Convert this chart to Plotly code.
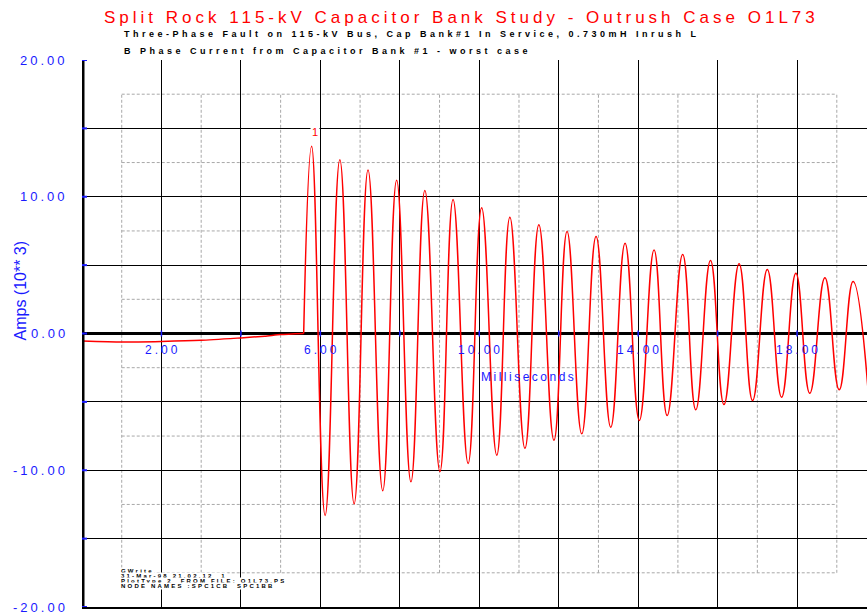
import plotly.graph_objects as go

# ---- capacitor bank outrush current, B phase (time in ms, current in kA) ----
pre_t = [0.0, 1.0, 2.0, 3.0, 4.0, 4.6, 5.0, 5.58]
pre_i = [-0.55, -0.62, -0.58, -0.50, -0.32, -0.20, -0.08, 0.0]

peak_t = [5.78, 6.49, 7.20, 7.92, 8.63, 9.34, 10.06, 10.77, 11.50, 12.21,
          12.94, 13.67, 14.40, 15.12, 15.82, 16.54, 17.25, 17.97, 18.70, 19.41]
peak_i = [13.7, 12.7, 11.95, 11.2, 10.45, 9.8, 9.2, 8.5, 7.95, 7.45,
          7.1, 6.6, 6.1, 5.78, 5.34, 5.1, 4.68, 4.4, 4.07, 3.8]

trough_t = [6.12, 6.85, 7.57, 8.28, 9.01, 9.72, 10.44, 11.15, 11.88, 12.58,
            13.31, 14.03, 14.73, 15.45, 16.16, 16.88, 17.61, 18.32, 19.06, 19.78]
trough_i = [-13.3, -12.45, -11.5, -10.85, -10.1, -9.5, -8.9, -8.4, -7.8, -7.34,
            -6.85, -6.36, -6.0, -5.58, -5.19, -4.9, -4.66, -4.37, -4.12, -3.9]

y_tick_vals = [-20, -15, -10, -5, 0, 5, 10, 15, 20]
y_tick_text = ["-20.00", "", "-10.00", "", "0.00", "", "10.00", "", "20.00"]
x_tick_vals = [2, 6, 10, 14, 18]
x_tick_text = ["2.00", "6.00", "10.00", "14.00", "18.00"]
x_mark_vals = [2, 4, 6, 8, 10, 12, 14, 16, 18]

title_text = "Split Rock 115-kV Capacitor Bank Study - Outrush Case O1L73"
sub_lines = [
    "Three-Phase Fault on 115-kV Bus, Cap Bank#1 In Service, 0.730mH Inrush L",
    "B Phase Current from Capacitor Bank #1 - worst case",
]
info_lines = [
    "GWrite",
    "31-Mar-98 21.02.12  1",
    "PlotType 2  FROM FILE: O1L73.PS",
    "NODE NAMES :SPC1CB  SPC1BB",
]

X_MAX = 19.76
RED = "#ff0000"
BLUE = "#1a1aff"
FONT = "Liberation Sans, Arial, sans-serif"

# plot-area geometry in pixels (used to place the header text)
PLOT_LEFT, PLOT_TOP, PLOT_BOTTOM, PLOT_W = 82, 60, 607, 785
PLOT_H = PLOT_BOTTOM - PLOT_TOP


def spaced(text, px):
    return f'<span style="letter-spacing:{px}px">{text}</span>'


def paper_x(px):
    return (px - PLOT_LEFT) / PLOT_W


def paper_y(py):
    return (PLOT_BOTTOM - py) / PLOT_H


# oscillation: start at the switching instant, then alternate extremes in time order
osc = sorted(zip(peak_t + trough_t, peak_i + trough_i))
osc_t = [pre_t[-1]] + [p[0] for p in osc]
osc_i = [pre_i[-1]] + [p[1] for p in osc]

fig = go.Figure()
fig.add_trace(go.Scatter(x=pre_t, y=pre_i, mode="lines",
                         line=dict(color=RED, width=1.5, shape="spline", smoothing=0.6),
                         hoverinfo="skip"))
fig.add_trace(go.Scatter(x=osc_t, y=osc_i, mode="lines",
                         line=dict(color=RED, width=1.5, shape="spline", smoothing=1.3),
                         hoverinfo="skip"))

shapes = []
# dashed inner grid (odd milliseconds, half-division amps)
for v in range(1, 20, 2):
    shapes.append(dict(type="line", xref="x", yref="y", x0=v, x1=v, y0=-17.5, y1=17.5,
                       line=dict(color="#a8a8a8", width=1, dash="3px,2px"), layer="below"))
for v in [-17.5, -12.5, -7.5, -2.5, 2.5, 7.5, 12.5, 17.5]:
    shapes.append(dict(type="line", xref="x", yref="y", x0=1, x1=19, y0=v, y1=v,
                       line=dict(color="#a8a8a8", width=1, dash="3px,2px"), layer="below"))
# heavy left axis
shapes.append(dict(type="line", xref="x", yref="y", x0=0, x1=0, y0=-20, y1=20,
                   line=dict(color="black", width=5), layer="above"))
# blue tick marks on the left axis
for v in y_tick_vals:
    shapes.append(dict(type="line", xref="x", yref="y", xsizemode="pixel", xanchor=0,
                       x0=-2, x1=5, y0=v, y1=v, line=dict(color=BLUE, width=2), layer="above"))
# blue tick marks on the zero line
for v in x_mark_vals:
    shapes.append(dict(type="line", xref="x", yref="y", ysizemode="pixel", yanchor=0,
                       x0=v, x1=v, y0=-3, y1=3, line=dict(color=BLUE, width=1.5), layer="above"))

ann = []
for v, t in zip(y_tick_vals, y_tick_text):
    if t:
        ann.append(dict(x=0, y=v, xref="x", yref="y", text=spaced(t, 3), showarrow=False,
                        xanchor="right", yanchor="middle", xshift=-12,
                        font=dict(family=FONT, size=13, color=BLUE)))
for v, t in zip(x_tick_vals, x_tick_text):
    ann.append(dict(x=v, y=0, xref="x", yref="y", text=spaced(t, 3), showarrow=False,
                    xanchor="center", yanchor="middle", yshift=-16, xshift=1.5,
                    font=dict(family=FONT, size=12, color=BLUE)))
ann.append(dict(x=10, y=0, xref="x", yref="y", text=spaced("Milliseconds", 2.5),
                showarrow=False, xanchor="left", yanchor="middle", yshift=-43,
                font=dict(family=FONT, size=12, color=BLUE)))
ann.append(dict(x=0, y=0, xref="x", yref="y", text="Amps (10** 3)", textangle=-90,
                showarrow=False, xanchor="center", yanchor="middle", xshift=-62, yshift=43,
                font=dict(family=FONT, size=16, color=BLUE)))
ann.append(dict(x=5.86, y=14.75, xref="x", yref="y", text="1", showarrow=False,
                bgcolor="white", font=dict(family=FONT, size=11, color=RED)))
# header
ann.append(dict(x=paper_x(461), y=paper_y(17), xref="paper", yref="paper",
                text=spaced(title_text, 4), showarrow=False,
                xanchor="center", yanchor="middle",
                font=dict(family=FONT, size=17, color=RED)))
for line, py in zip(sub_lines, [34, 51]):
    ann.append(dict(x=paper_x(122), y=paper_y(py), xref="paper", yref="paper",
                    text=spaced(line, 3.5), showarrow=False, xanchor="left", yanchor="middle",
                    font=dict(family=FONT, size=9, color="black", weight="bold")))
# plot-info block in the lower left corner
for k, line in enumerate(info_lines):
    ann.append(dict(x=0.95, y=-17.35 - 0.37 * k, xref="x", yref="y", text=spaced(line, 2.2),
                    showarrow=False, xanchor="left", yanchor="middle", bgcolor="white",
                    borderpad=0,
                    font=dict(family=FONT, size=6, color="black", weight="bold")))

fig.update_layout(
    width=867, height=615,
    margin=dict(l=PLOT_LEFT, r=0, t=PLOT_TOP, b=615 - PLOT_BOTTOM),
    paper_bgcolor="white", plot_bgcolor="white",
    showlegend=False,
    shapes=shapes, annotations=ann,
    xaxis=dict(range=[0, X_MAX], tick0=0, dtick=2, showgrid=True, gridcolor="black",
               gridwidth=1.2, showticklabels=False, ticks="", zeroline=False,
               showline=True, linecolor="black", linewidth=2),
    yaxis=dict(range=[-20, 20], tickvals=y_tick_vals, showgrid=True, gridcolor="black",
               gridwidth=1.2, showticklabels=False, ticks="", zeroline=True,
               zerolinecolor="black", zerolinewidth=3, showline=False),
)

fig.write_html("out.html")
